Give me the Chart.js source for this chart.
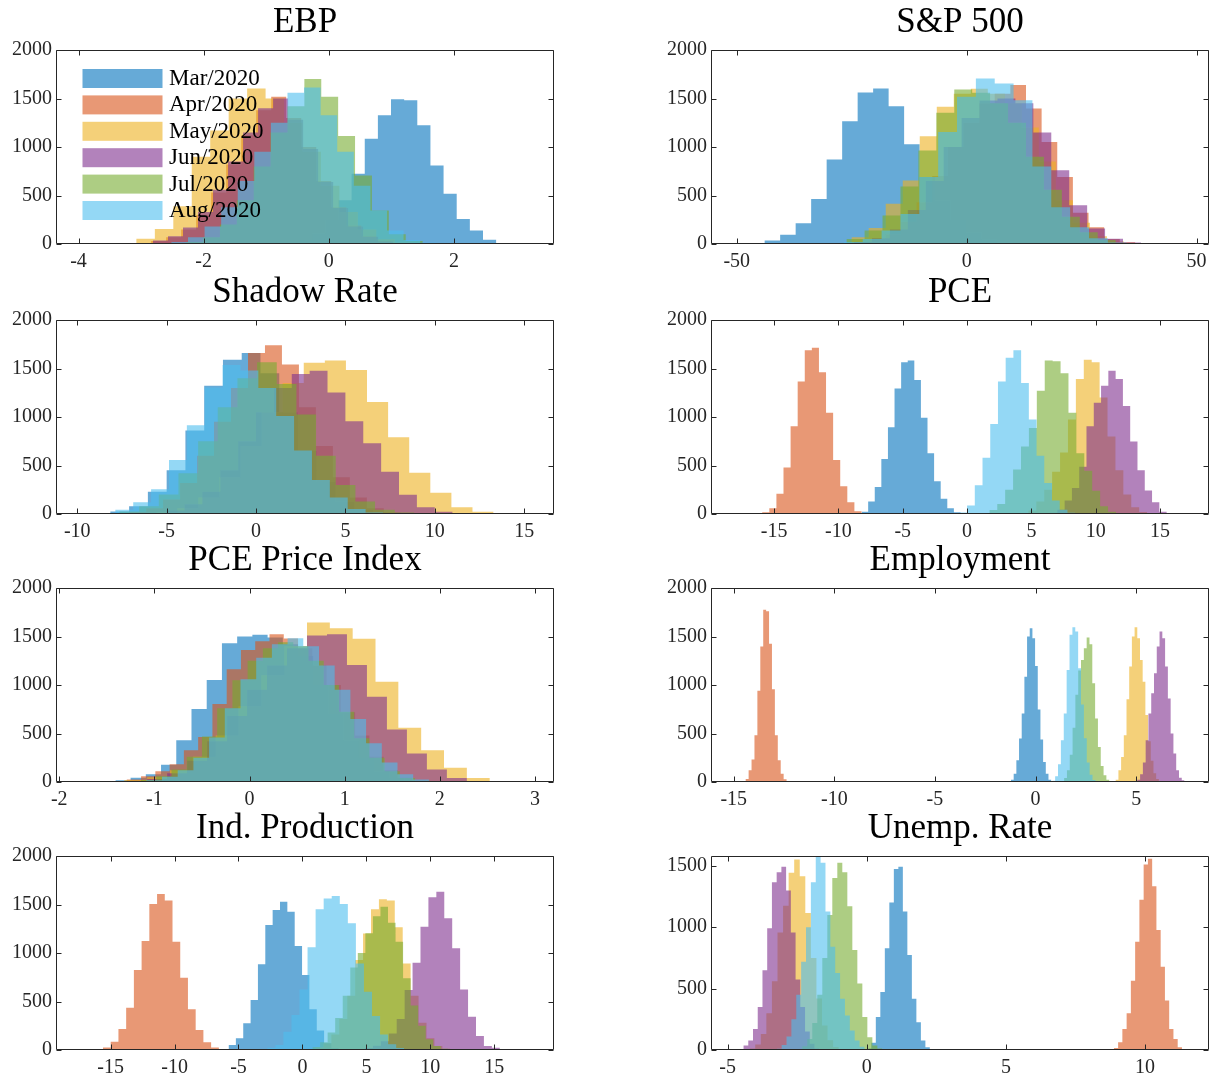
<!DOCTYPE html>
<html>
<head>
<meta charset="utf-8">
<script src="https://cdn.jsdelivr.net/npm/chart.js@4.4.0/dist/chart.umd.min.js"></script>
<style>
  html, body { margin: 0; padding: 0; background: #fff; overflow: hidden; width: 1213px; height: 1079px; }
  canvas { position: absolute; }
</style>
</head>
<body>
<script>
const months = ['Mar/2020', 'Apr/2020', 'May/2020', 'Jun/2020', 'Jul/2020', 'Aug/2020'];
const colors = ['rgba(0,114,189,0.6)', 'rgba(217,83,25,0.6)', 'rgba(237,177,32,0.6)',
                'rgba(126,47,142,0.6)', 'rgba(119,172,48,0.6)', 'rgba(77,190,238,0.6)'];
const yTicks = [0, 500, 1000, 1500, 2000];
const unempYTicks = [0, 500, 1000, 1500];

// each series: first bin edge, bin width, counts (order Mar..Aug)
// EBP
const ebpTicks = [-4, -2, 0, 2];
const ebpRange = [-4.36, 3.6];
const ebpStart = [-0.475, -3.08, -3.37, -3.05, -2.55, -2.78];
const ebpWidth = [0.21, 0.24, 0.295, 0.24, 0.27, 0.265];
const ebpCounts = [
  [40, 110, 250, 450, 724, 1086, 1328, 1493, 1483, 1224, 810, 517, 259, 138, 45, 10],
  [10, 30, 70, 150, 300, 530, 820, 1120, 1380, 1517, 1300, 1000, 650, 380, 190, 80, 30, 10],
  [10, 55, 155, 390, 900, 1170, 1500, 1603, 1500, 1250, 950, 600, 330, 150, 50, 12],
  [10, 35, 80, 170, 330, 560, 850, 1150, 1400, 1500, 1280, 980, 640, 370, 180, 75, 25, 8],
  [5, 20, 70, 200, 450, 800, 1150, 1420, 1700, 1517, 1114, 707, 345, 100, 30, 8],
  [5, 20, 70, 180, 380, 650, 950, 1250, 1558, 1614, 1328, 950, 600, 345, 138, 40, 12]
];

// S&P 500
const spTicks = [-50, 0, 50];
const spRange = [-55.6, 52.7];
const spStart = [-47.3, -24.5, -28.7, -28.4, -30, -30.8];
const spWidth = [3.37, 3.4, 3.7, 3.9, 3.9, 4.1];
const spCounts = [
  [10, 35, 95, 215, 465, 872, 1265, 1562, 1603, 1420, 1028, 690, 450, 250, 120, 50, 15, 5],
  [12, 40, 100, 230, 430, 700, 1000, 1250, 1450, 1550, 1638, 1397, 1052, 690, 321, 172, 52, 17],
  [10, 69, 165, 414, 655, 1110, 1414, 1550, 1600, 1550, 1450, 1200, 850, 450, 220, 80, 25, 8],
  [5, 20, 60, 150, 350, 650, 1000, 1300, 1480, 1500, 1450, 1150, 760, 400, 160, 55, 15],
  [8, 52, 138, 293, 593, 965, 1352, 1593, 1560, 1450, 1250, 900, 560, 280, 120, 40, 10],
  [5, 20, 52, 138, 310, 690, 1155, 1517, 1707, 1655, 1483, 800, 380, 172, 60, 15]
];

// Shadow Rate
const shadowTicks = [-10, -5, 0, 5, 10, 15];
const shadowRange = [-11.19, 16.67];
const shadowStart = [-9.2, -8.05, -5.59, -6.0, -8.74, -8.87];
const shadowWidth = [1.05, 0.95, 1.18, 1.0, 1.1, 1.0];
const shadowCounts = [
  [5, 25, 80, 230, 452, 860, 1322, 1590, 1660, 1450, 1050, 650, 330, 130, 40, 10],
  [5, 20, 60, 150, 320, 600, 950, 1300, 1660, 1739, 1540, 1100, 700, 380, 170, 60, 15],
  [15, 60, 170, 380, 700, 1050, 1350, 1558, 1582, 1485, 1155, 790, 424, 219, 70, 24],
  [10, 35, 100, 230, 450, 750, 1050, 1300, 1443, 1478, 1252, 956, 730, 435, 198, 70, 24],
  [5, 25, 80, 200, 420, 750, 1100, 1400, 1565, 1339, 1026, 600, 300, 130, 45, 15],
  [10, 45, 122, 254, 556, 915, 1304, 1537, 1480, 1300, 1010, 654, 350, 170, 52, 15]
];

// PCE
const pceTicks = [-15, -10, -5, 0, 5, 10, 15];
const pceRange = [-19.9, 18.8];
const pceStart = [-8.2, -16.47, 4.15, 6.45, 1.73, -0.6];
const pceWidth = [0.5125, 0.551, 0.615, 0.566, 0.615, 0.6];
const pceCounts = [
  [24, 129, 278, 567, 894, 1294, 1565, 1582, 1381, 991, 626, 337, 156, 59, 17, 10],
  [7, 17, 59, 209, 480, 904, 1367, 1687, 1715, 1461, 1043, 556, 285, 122, 28, 10],
  [10, 35, 129, 250, 435, 633, 974, 1391, 1589, 1565, 1200, 800, 450, 200, 70, 20],
  [12, 45, 139, 268, 487, 904, 1148, 1322, 1478, 1391, 1113, 748, 452, 243, 122, 24, 10],
  [42, 104, 250, 459, 696, 887, 1270, 1582, 1575, 1450, 1043, 626, 445, 240, 80, 24],
  [15, 87, 296, 580, 928, 1367, 1610, 1687, 1350, 974, 600, 320, 140, 45, 12]
];

// PCE Price Index
const priceTicks = [-2, -1, 0, 1, 2, 3];
const priceRange = [-2.034, 3.2];
const priceStart = [-1.41, -1.44, -1.556, -1.286, -1.3, -1.25];
const priceWidth = [0.16, 0.15, 0.24, 0.21, 0.16, 0.165];
const priceCounts = [
  [17, 45, 79, 179, 431, 752, 1052, 1431, 1500, 1517, 1490, 1420, 1300, 1000, 700, 430, 250, 110, 40, 12, 4],
  [8, 25, 60, 110, 183, 328, 465, 803, 1162, 1362, 1450, 1524, 1480, 1380, 1200, 1000, 720, 480, 260, 120, 45, 12],
  [5, 20, 50, 120, 260, 480, 780, 1100, 1400, 1645, 1586, 1476, 1034, 559, 328, 148, 41, 10],
  [8, 30, 90, 220, 420, 680, 950, 1200, 1380, 1510, 1524, 1207, 880, 541, 293, 128, 41, 10],
  [5, 20, 60, 130, 260, 470, 760, 1050, 1250, 1380, 1440, 1400, 1250, 1000, 724, 450, 250, 110, 40, 12],
  [5, 18, 55, 120, 250, 460, 760, 1060, 1280, 1420, 1483, 1400, 1200, 950, 650, 400, 200, 80, 25, 8]
];

// Employment
const empTicks = [-15, -10, -5, 0, 5];
const empRange = [-16.13, 8.62];
const empStart = [-1.22, -14.55, 3.85, 4.92, 1.28, 0.83];
const empWidth = [0.133, 0.145, 0.134, 0.138, 0.14, 0.143];
const empCounts = [
  [24, 86, 224, 448, 707, 1086, 1500, 1586, 1483, 1197, 748, 438, 207, 86, 24, 8],
  [8, 30, 121, 231, 483, 941, 1397, 1776, 1760, 1424, 955, 483, 224, 86, 28, 8],
  [8, 24, 121, 259, 483, 852, 1190, 1500, 1596, 1483, 1258, 1034, 690, 420, 220, 90, 30, 8],
  [10, 24, 80, 200, 431, 707, 914, 1121, 1397, 1552, 1483, 1190, 862, 500, 293, 121, 45, 17],
  [10, 40, 120, 280, 560, 900, 1150, 1258, 1379, 1490, 1420, 1017, 655, 362, 166, 69, 24, 8],
  [12, 60, 183, 431, 707, 1155, 1517, 1596, 1552, 1172, 800, 450, 200, 75, 20, 5]
];

// Ind. Production
const ipTicks = [-15, -10, -5, 0, 5, 10, 15];
const ipRange = [-19.27, 19.67];
const ipStart = [-5.78, -16.2, 0.4, 3.65, 0.2, -2.75];
const ipWidth = [0.575, 0.604, 0.62, 0.62, 0.59, 0.63];
const ipCounts = [
  [52, 120, 275, 515, 883, 1288, 1443, 1529, 1426, 1072, 773, 420, 200, 70, 20],
  [8, 27, 86, 216, 436, 825, 1124, 1505, 1608, 1540, 1117, 746, 419, 206, 79, 27, 10],
  [8, 25, 70, 160, 320, 560, 928, 1200, 1450, 1553, 1540, 1265, 893, 560, 280, 120, 40, 12],
  [5, 10, 20, 45, 90, 170, 320, 619, 900, 1271, 1574, 1632, 1357, 1048, 625, 344, 144, 41, 24, 10],
  [10, 30, 80, 180, 330, 560, 850, 1000, 1203, 1380, 1477, 1313, 1117, 739, 460, 250, 110, 40, 12],
  [24, 52, 189, 361, 625, 1058, 1450, 1563, 1587, 1505, 1306, 893, 600, 350, 160, 60, 20]
];

// Unemp. Rate
const unempTicks = [-5, 0, 5, 10];
const unempRange = [-5.6, 12.3];
const unempStart = [0.0, 8.88, -4.21, -4.6, -2.5, -3.235];
const unempWidth = [0.162, 0.153, 0.2, 0.17, 0.18, 0.175];
const unempCounts = [
  [12, 60, 268, 473, 828, 1202, 1475, 1492, 1128, 773, 418, 227, 77, 22],
  [16, 63, 172, 300, 563, 882, 1224, 1511, 1557, 1333, 978, 677, 404, 172, 90, 22, 8],
  [12, 45, 130, 300, 560, 956, 1175, 1443, 1552, 1415, 1115, 750, 420, 200, 80, 25, 8],
  [8, 36, 77, 172, 350, 650, 992, 1366, 1448, 1492, 1300, 956, 574, 350, 150, 50, 12],
  [8, 30, 90, 220, 450, 750, 1100, 1400, 1525, 1448, 1170, 814, 541, 268, 104, 36, 12],
  [10, 40, 110, 250, 450, 719, 1000, 1366, 1580, 1525, 1128, 840, 628, 418, 281, 158, 77, 27, 8]
];

const panels = [
  { title: 'EBP', ticks: ebpTicks, range: ebpRange, start: ebpStart, width: ebpWidth, counts: ebpCounts, col: 0, row: 0, legend: true },
  { title: 'S&P 500', ticks: spTicks, range: spRange, start: spStart, width: spWidth, counts: spCounts, col: 1, row: 0 },
  { title: 'Shadow Rate', ticks: shadowTicks, range: shadowRange, start: shadowStart, width: shadowWidth, counts: shadowCounts, col: 0, row: 1 },
  { title: 'PCE', ticks: pceTicks, range: pceRange, start: pceStart, width: pceWidth, counts: pceCounts, col: 1, row: 1 },
  { title: 'PCE Price Index', ticks: priceTicks, range: priceRange, start: priceStart, width: priceWidth, counts: priceCounts, col: 0, row: 2 },
  { title: 'Employment', ticks: empTicks, range: empRange, start: empStart, width: empWidth, counts: empCounts, col: 1, row: 2 },
  { title: 'Ind. Production', ticks: ipTicks, range: ipRange, start: ipStart, width: ipWidth, counts: ipCounts, col: 0, row: 3 },
  { title: 'Unemp. Rate', ticks: unempTicks, range: unempRange, start: unempStart, width: unempWidth, counts: unempCounts, col: 1, row: 3, yMax: 1580, yTicks: unempYTicks }
];

const FONT = "'Liberation Serif', 'Times New Roman', serif";
const INK = '#262626';
const rowTops = [50, 320, 588, 856];

// step outline of one histogram: left edge up, bin tops, right edge down
function histPoints(start, width, counts) {
  const pts = [{ x: start, y: 0 }];
  counts.forEach((c, i) => pts.push({ x: start + i * width, y: c }));
  pts.push({ x: start + counts.length * width, y: 0 });
  return pts;
}

// MATLAB style box with inward ticks on all four sides
const boxPlugin = {
  id: 'boxPlugin',
  afterDatasetsDraw(chart) {
    const { ctx, chartArea: a, scales: { x, y } } = chart;
    const l = Math.round(a.left) + 0.5, r = Math.round(a.right) - 0.5;
    const t = Math.round(a.top) + 0.5, b = Math.round(a.bottom) - 0.5;
    ctx.save();
    ctx.strokeStyle = INK;
    ctx.lineWidth = 1;
    ctx.beginPath();
    ctx.rect(l, t, r - l, b - t);
    x.ticks.forEach(tk => {
      const px = Math.round(x.getPixelForValue(tk.value)) + 0.5;
      ctx.moveTo(px, b); ctx.lineTo(px, b - 5);
      ctx.moveTo(px, t); ctx.lineTo(px, t + 5);
    });
    y.ticks.forEach(tk => {
      const py = Math.round(y.getPixelForValue(tk.value)) + 0.5;
      ctx.moveTo(l, py); ctx.lineTo(l + 5, py);
      ctx.moveTo(r, py); ctx.lineTo(r - 5, py);
    });
    ctx.stroke();
    ctx.restore();
  }
};

// legend drawn inside the EBP axes, over the bars
const legendPlugin = {
  id: 'insideLegend',
  afterDatasetsDraw(chart, args, opts) {
    if (!opts.show) return;
    const { ctx, chartArea: a } = chart;
    ctx.save();
    ctx.font = '23px ' + FONT;
    ctx.textBaseline = 'middle';
    months.forEach((m, i) => {
      const y0 = a.top + 19 + i * 26.4;
      ctx.fillStyle = colors[i];
      ctx.fillRect(a.left + 26.5, y0, 80, 19);
      ctx.fillStyle = '#000';
      ctx.fillText(m, a.left + 113, y0 + 10);
    });
    ctx.restore();
  }
};

panels.forEach(p => {
  const cv = document.createElement('canvas');
  const left = p.col === 0 ? 0 : 655;
  const w = p.col === 0 ? 560 : 558;
  const h = 276;
  cv.width = w; cv.height = h;
  cv.style.left = left + 'px';
  cv.style.top = (rowTops[p.row] - 50) + 'px';
  cv.style.width = w + 'px'; cv.style.height = h + 'px';
  document.body.appendChild(cv);

  const yt = p.yTicks || yTicks;
  new Chart(cv, {
    type: 'line',
    data: {
      datasets: p.counts.map((c, i) => ({
        label: months[i],
        data: histPoints(p.start[i], p.width[i], c),
        stepped: true,
        fill: 'origin',
        backgroundColor: colors[i],
        borderWidth: 0,
        pointRadius: 0,
        pointHoverRadius: 0,
        order: 5 - i
      }))
    },
    options: {
      responsive: false,
      animation: false,
      devicePixelRatio: 1,
      events: [],
      layout: { padding: { left: 0, right: p.col === 0 ? 6 : 4, top: 0, bottom: 0 } },
      plugins: {
        legend: { display: false },
        tooltip: { enabled: false },
        title: {
          display: true,
          text: p.title,
          fullSize: false,
          color: '#000',
          font: { family: FONT, size: 35, weight: 'normal', lineHeight: 1.2 },
          padding: { top: 2, bottom: 6 }
        },
        insideLegend: { show: !!p.legend }
      },
      scales: {
        x: {
          type: 'linear',
          min: p.range[0],
          max: p.range[1],
          afterBuildTicks: s => { s.ticks = p.ticks.map(v => ({ value: v })); },
          afterFit: s => { s.height = 32; },
          grid: { display: false, drawTicks: false },
          border: { display: false },
          ticks: {
            autoSkip: false, maxRotation: 0, padding: 6,
            color: INK, font: { family: FONT, size: 20 },
            callback: v => String(v)
          }
        },
        y: {
          type: 'linear',
          min: 0,
          max: p.yMax || 2000,
          afterBuildTicks: s => { s.ticks = yt.map(v => ({ value: v })); },
          afterFit: s => { s.width = 56; },
          grid: { display: false, drawTicks: false },
          border: { display: false },
          ticks: {
            autoSkip: false, padding: 4,
            color: INK, font: { family: FONT, size: 20 },
            callback: v => String(v)
          }
        }
      }
    },
    plugins: [boxPlugin, legendPlugin]
  });
});
</script>
</body>
</html>
